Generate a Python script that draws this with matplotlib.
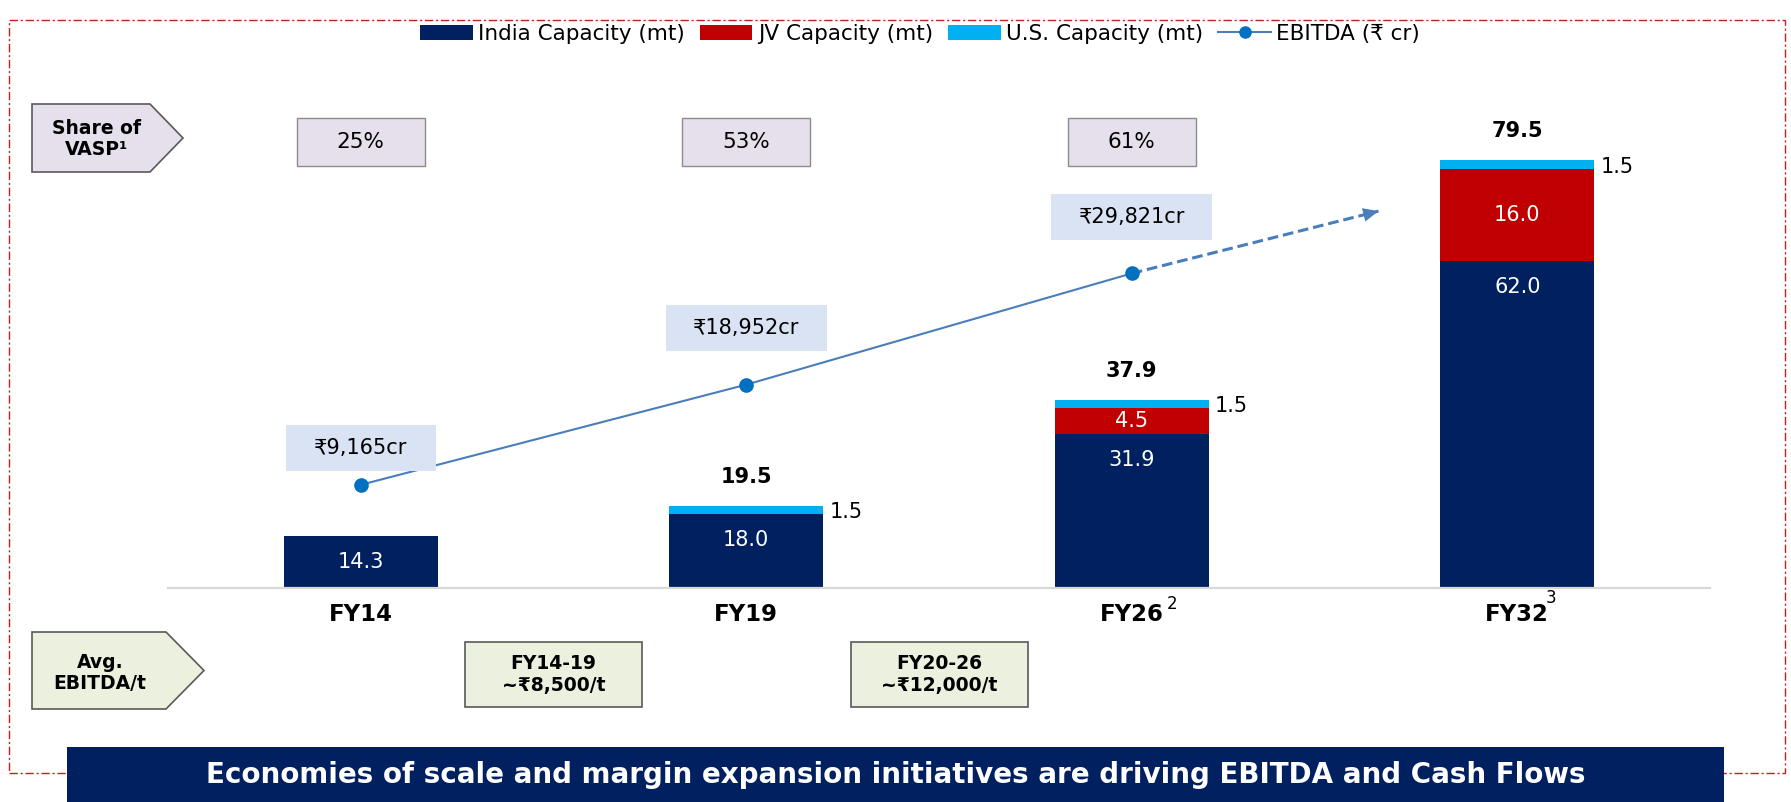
import matplotlib
matplotlib.use('Agg')
import matplotlib.pyplot as plt
import matplotlib.transforms as mtransforms
from matplotlib.patches import Rectangle, Polygon, Patch
from matplotlib.lines import Line2D
import numpy as np

plt.rcParams['font.family'] = ['DejaVu Sans', 'Noto Sans']

# ---------------- data ----------------
categories = ['FY14', 'FY19', 'FY26', 'FY32']
footnotes = ['', '', '2', '3']
india_capacity = [14.3, 18.0, 31.9, 62.0]
jv_capacity = [0.0, 0.0, 4.5, 16.0]
us_capacity = [0.0, 1.5, 1.5, 1.5]
ebitda = [9165, 18952, 29821]
ebitda_labels = ['₹9,165cr', '₹18,952cr', '₹29,821cr']
vasp_share = ['25%', '53%', '61%']
period_labels = ['FY14-19\n~₹8,500/t', 'FY20-26\n~₹12,000/t']
legend_labels = ['India Capacity (mt)', 'JV Capacity (mt)', 'U.S. Capacity (mt)', 'EBITDA (₹ cr)']
banner_text = 'Economies of scale and margin expansion initiatives are driving EBITDA and Cash Flows'

# ---------------- style ----------------
NAVY = '#002060'
RED = '#C00000'
CYAN = '#00B0F0'
LINE = '#4A7EBB'
MARK = '#0070C0'
W, H, DPI = 1791, 802, 100
PT = 72.0 / DPI  # px -> pt


def fx(px):
    return px / W


def fy(py):
    return 1 - py / H


fig = plt.figure(figsize=(W / DPI, H / DPI), dpi=DPI)

# axes geometry (pixels)
AX_L, AX_R, AX_B = 168, 1710, 588
Y0, YTOP, PX_PER_UNIT = 5.22, 90.0, 5.758
ax_top_px = AX_B - (YTOP - Y0) * PX_PER_UNIT
ax = fig.add_axes([fx(AX_L), fy(AX_B), (AX_R - AX_L) / W, (AX_B - ax_top_px) / H])

x = np.arange(len(categories))
india = np.array(india_capacity)
jv = np.array(jv_capacity)
us = np.array(us_capacity)
total = india + jv + us
BW = 0.4

ax.bar(x, india, BW, color=NAVY, zorder=2)
ax.bar(x, jv, BW, bottom=india, color=RED, zorder=2)
ax.bar(x, us, BW, bottom=india + jv, color=CYAN, zorder=2)

footnote_offsets = {2: (40, -16), 3: (34, -10)}
for i, xi in enumerate(x):
    ax.annotate(f'{india[i]:.1f}', xy=(xi, india[i]), xytext=(0, -26 * PT),
                textcoords='offset points', ha='center', va='center',
                color='white', fontsize=15, zorder=3)
    if jv[i] > 0:
        ax.text(xi, india[i] + jv[i] / 2, f'{jv[i]:.1f}', ha='center', va='center',
                color='white', fontsize=15, zorder=3)
    if us[i] > 0:
        ax.annotate(f'{us[i]:.1f}', xy=(xi + BW / 2, india[i] + jv[i] + us[i] / 2),
                    xytext=(6 * PT, -2 * PT), textcoords='offset points',
                    ha='left', va='center', fontsize=15, color='black')
    if jv[i] > 0 or us[i] > 0:
        ax.annotate(f'{total[i]:.1f}', xy=(xi, total[i]), xytext=(0, 29 * PT),
                    textcoords='offset points', ha='center', va='center',
                    fontsize=15, fontweight='bold', color='black')
    if footnotes[i]:
        ox, oy = footnote_offsets[i]
        ax.annotate(footnotes[i], xy=(xi, Y0), xytext=(ox * PT, oy * PT),
                    textcoords='offset points', ha='center', va='center',
                    fontsize=12, color='black', annotation_clip=False)

ax.set_xticks(x, categories, fontsize=16.5, fontweight='bold')
ax.tick_params(axis='x', length=0, pad=11)
ax.set_yticks([])
for s in ['top', 'left', 'right']:
    ax.spines[s].set_visible(False)
ax.spines['bottom'].set_color('#D9D9D9')
ax.spines['bottom'].set_linewidth(1.6)
ax.set_xlim(-0.5, 3.5)
ax.set_ylim(Y0, YTOP)

# EBITDA on secondary axis
ax2 = ax.twinx()
ax2.set_ylim(-918, 46781)
ax2.set_yticks([])
for s in ax2.spines.values():
    s.set_visible(False)
xe = x[:len(ebitda)]
ax2.plot(xe, ebitda, '-', color=LINE, lw=1.5, marker='o', ms=9.5,
         mfc=MARK, mec=MARK, zorder=4)
# projection arrow
PROJ_X, PROJ_Y = 0.64, 0.56
x_end = xe[-1] + PROJ_X * (xe[-1] - xe[-2])
y_end = ebitda[-1] + PROJ_Y * (ebitda[-1] - ebitda[-2])
ax2.plot([xe[-1], x_end], [ebitda[-1], y_end], color=LINE, lw=2.2,
         linestyle=(0, (3.5, 1.6)), dash_capstyle='butt', zorder=3)
ax2.annotate('', xy=(x_end, y_end), xytext=(xe[-1], ebitda[-1]),
             arrowprops=dict(arrowstyle='-|>,head_length=1.0,head_width=0.45',
                             color=LINE, lw=0, mutation_scale=11,
                             shrinkA=0, shrinkB=0), zorder=5)

# EBITDA label boxes
label_dy = [37, 57, 56]
for i, lab in enumerate(ebitda_labels):
    tr = fig.dpi_scale_trans + mtransforms.ScaledTranslation(xe[i], ebitda[i], ax2.transData)
    w = 62 + 11 * len(lab)
    h = 46
    dy = label_dy[i]
    fig.add_artist(Rectangle((-w / 2 / DPI, (dy - h / 2) / DPI), w / DPI, h / DPI,
                             transform=tr, facecolor='#DAE3F3', edgecolor='none', zorder=2))
    fig.text(0, dy / DPI, lab, transform=tr, ha='center', va='center',
             fontsize=15, color='black', zorder=3)

# VASP share boxes
blend = mtransforms.blended_transform_factory(ax.transData, fig.transFigure)
for i, s in enumerate(vasp_share):
    tr = fig.dpi_scale_trans + mtransforms.ScaledTranslation(x[i], fy(142), blend)
    w, h = 128, 48
    fig.add_artist(Rectangle((-w / 2 / DPI, -h / 2 / DPI), w / DPI, h / DPI, transform=tr,
                             facecolor='#E6E0EC', edgecolor='#8C8C8C', lw=1.0, zorder=2))
    fig.text(0, 0, s, transform=tr, ha='center', va='center', fontsize=15.5, zorder=3)

# Period EBITDA/t boxes
for i, s in enumerate(period_labels):
    xm = (x[i] + x[i + 1]) / 2
    tr = fig.dpi_scale_trans + mtransforms.ScaledTranslation(xm, fy(674.5), blend)
    w, h = 177, 65
    fig.add_artist(Rectangle((-w / 2 / DPI, -h / 2 / DPI), w / DPI, h / DPI, transform=tr,
                             facecolor='#EBF1DE', edgecolor='#595959', lw=1.2, zorder=2))
    fig.text(0, 0, s, transform=tr, ha='center', va='center', fontsize=13.5,
             fontweight='bold', linespacing=1.15, zorder=3)

# pentagons (row headers)
def pentagon(x0, x1, xt, y0, y1, fc):
    ym = (y0 + y1) / 2
    pts = [(fx(x0), fy(y0)), (fx(x1), fy(y0)), (fx(xt), fy(ym)),
           (fx(x1), fy(y1)), (fx(x0), fy(y1))]
    fig.add_artist(Polygon(pts, closed=True, transform=fig.transFigure,
                           facecolor=fc, edgecolor='#595959', lw=1.2, zorder=2))

pentagon(32, 150, 183, 104, 172, '#E6E0EC')
fig.text(fx(97), fy(139), 'Share of\nVASP¹', ha='center', va='center', fontsize=13.5,
         fontweight='bold', linespacing=1.15, zorder=3)
pentagon(32, 166, 204, 632, 709, '#EBF1DE')
fig.text(fx(100), fy(673), 'Avg.\nEBITDA/t', ha='center', va='center', fontsize=13.5,
         fontweight='bold', linespacing=1.15, zorder=3)

# dashed red border
fig.add_artist(Rectangle((fx(9), fy(773)), fx(1785) - fx(9), (773 - 20) / H,
                         transform=fig.transFigure, fill=False, edgecolor='#C81E1E',
                         lw=1.0, linestyle=(0, (6, 2, 1.5, 2)), zorder=1))
# banner
fig.add_artist(Rectangle((fx(67), fy(802)), fx(1724) - fx(67), (802 - 747) / H,
                         transform=fig.transFigure, facecolor=NAVY, edgecolor='none', zorder=4))
fig.text(fx(895.5), fy(775), banner_text, ha='center', va='center', color='white',
         fontsize=20, fontweight='bold', zorder=5)

# legend
handles = [Patch(facecolor=NAVY), Patch(facecolor=RED), Patch(facecolor=CYAN),
           Line2D([0], [0], color=LINE, lw=1.5, marker='o', ms=8, mfc=MARK, mec=MARK)]
fig.legend(handles, legend_labels, loc='center', bbox_to_anchor=(fx(920), fy(34)),
           ncol=4, frameon=False, fontsize=15.5, handlelength=2.45, handleheight=0.7,
           handletextpad=0.25, columnspacing=0.7)

fig.savefig('out.png', dpi=DPI)
